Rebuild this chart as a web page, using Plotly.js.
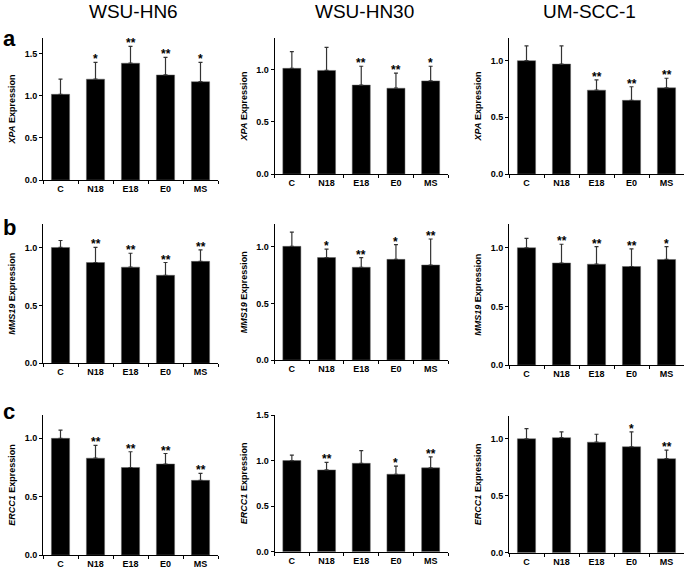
<!DOCTYPE html>
<html>
<head>
<meta charset="utf-8">
<script src="https://cdn.plot.ly/plotly-3.0.1.min.js"></script>
<style>html,body{margin:0;padding:0;background:#fff;}#chart{width:685px;height:572px;}</style>
</head>
<body>
<div id="chart"></div>
<script>
// ---- data ----
var categories = ["C", "N18", "E18", "E0", "MS"];
var cellLines = ["WSU-HN6", "WSU-HN30", "UM-SCC-1"];
var genes = ["XPA", "MMS19", "ERCC1"];
var panelLetters = ["a", "b", "c"];

var xpa_hn6 = [1.02, 1.20, 1.39, 1.25, 1.17];
var xpa_hn6_err = [0.18, 0.20, 0.20, 0.21, 0.23];
var xpa_hn6_sig = ["", "*", "**", "**", "*"];

var xpa_hn30 = [1.01, 0.99, 0.85, 0.82, 0.89];
var xpa_hn30_err = [0.16, 0.22, 0.18, 0.145, 0.14];
var xpa_hn30_sig = ["", "", "**", "**", "*"];

var xpa_scc1 = [1.00, 0.97, 0.74, 0.65, 0.76];
var xpa_scc1_err = [0.13, 0.16, 0.09, 0.12, 0.085];
var xpa_scc1_sig = ["", "", "**", "**", "**"];

var mms19_hn6 = [1.00, 0.87, 0.83, 0.76, 0.88];
var mms19_hn6_err = [0.06, 0.13, 0.12, 0.11, 0.10];
var mms19_hn6_sig = ["", "**", "**", "**", "**"];

var mms19_hn30 = [1.005, 0.906, 0.82, 0.89, 0.84];
var mms19_hn30_err = [0.125, 0.075, 0.085, 0.13, 0.23];
var mms19_hn30_sig = ["", "*", "**", "*", "**"];

var mms19_scc1 = [1.00, 0.87, 0.86, 0.84, 0.90];
var mms19_scc1_err = [0.08, 0.16, 0.15, 0.15, 0.11];
var mms19_scc1_sig = ["", "**", "**", "**", "*"];

var ercc1_hn6 = [1.00, 0.83, 0.75, 0.78, 0.64];
var ercc1_hn6_err = [0.07, 0.11, 0.135, 0.09, 0.06];
var ercc1_hn6_sig = ["", "**", "**", "**", "**"];

var ercc1_hn30 = [1.00, 0.897, 0.97, 0.85, 0.92];
var ercc1_hn30_err = [0.06, 0.083, 0.14, 0.09, 0.12];
var ercc1_hn30_sig = ["", "**", "", "*", "**"];

var ercc1_scc1 = [1.00, 1.01, 0.97, 0.93, 0.825];
var ercc1_scc1_err = [0.09, 0.05, 0.07, 0.13, 0.075];
var ercc1_scc1_sig = ["", "", "", "*", "**"];

var yMax = [[1.69, 1.30, 1.20], [1.20, 1.20, 1.20], [1.20, 1.50, 1.20]];

var panels = [
  [[xpa_hn6, xpa_hn6_err, xpa_hn6_sig], [xpa_hn30, xpa_hn30_err, xpa_hn30_sig], [xpa_scc1, xpa_scc1_err, xpa_scc1_sig]],
  [[mms19_hn6, mms19_hn6_err, mms19_hn6_sig], [mms19_hn30, mms19_hn30_err, mms19_hn30_sig], [mms19_scc1, mms19_scc1_err, mms19_scc1_sig]],
  [[ercc1_hn6, ercc1_hn6_err, ercc1_hn6_sig], [ercc1_hn30, ercc1_hn30_err, ercc1_hn30_sig], [ercc1_scc1, ercc1_scc1_err, ercc1_scc1_sig]]
];

// ---- layout geometry (pixels) ----
var W = 685, H = 572;
var colX = [[43, 218], [274.5, 448], [509, 684]];
var rowY = [
  [[38, 180], [38, 174], [38, 174]],
  [[224.3, 363.3], [224.3, 360], [224.3, 365]],
  [[415, 555], [415, 551.7], [416, 552.7]]
];
var FONT = '"Liberation Sans", Arial, sans-serif';

var data = [];
var layout = {
  width: W, height: H,
  margin: {l: 0, r: 0, t: 0, b: 0},
  paper_bgcolor: '#fff', plot_bgcolor: '#fff',
  showlegend: false,
  bargap: 0.48,
  annotations: []
};

var idx = 0;
for (var r = 0; r < 3; r++) {
  for (var c = 0; c < 3; c++) {
    idx++;
    var xa = 'x' + (idx === 1 ? '' : idx), ya = 'y' + (idx === 1 ? '' : idx);
    var xk = 'xaxis' + (idx === 1 ? '' : idx), yk = 'yaxis' + (idx === 1 ? '' : idx);
    var p = panels[r][c];
    data.push({
      type: 'bar', x: categories, y: p[0], xaxis: xa, yaxis: ya,
      marker: {color: '#000', line: {color: '#666', width: 0.5}},
      error_y: {type: 'data', array: p[1], arrayminus: p[1].map(function(){return 0;}), symmetric: false,
                color: '#333', thickness: 1.2, width: 2},
      hoverinfo: 'none'
    });
    layout[xk] = {
      domain: [colX[c][0] / W, colX[c][1] / W],
      anchor: ya, type: 'category', range: [-0.5, 4.5],
      showline: true, linecolor: '#000', linewidth: 1,
      ticks: 'outside', tickson: 'boundaries', ticklen: 3, tickcolor: '#000',
      showgrid: false, zeroline: false,
      tickfont: {family: FONT, size: 9, color: '#000', weight: 'bold'}
    };
    layout[yk] = {
      domain: [1 - rowY[r][c][1] / H, 1 - rowY[r][c][0] / H],
      anchor: xa, range: [0, yMax[r][c]],
      showline: true, linecolor: '#000', linewidth: 1,
      ticks: 'outside', ticklen: 3, tickcolor: '#000', dtick: 0.5, tickformat: '.1f',
      showgrid: false, zeroline: false,
      tickfont: {family: FONT, size: 9, color: '#000', weight: 'bold'},
      title: {text: '<i>' + genes[r] + '</i> Expression', standoff: 7,
              font: {family: FONT, size: 9, color: '#000', weight: 'bold'}}
    };
    for (var k = 0; k < categories.length; k++) {
      if (p[2][k]) {
        layout.annotations.push({
          xref: xa, yref: ya, x: categories[k], y: p[0][k] + p[1][k],
          text: p[2][k], showarrow: false, yanchor: 'bottom', yshift: -6,
          font: {family: FONT, size: 12, color: '#000', weight: 'bold'}
        });
      }
    }
  }
}

// column titles
var titleX = [133, 364, 589.5];
for (var c2 = 0; c2 < 3; c2++) {
  layout.annotations.push({
    xref: 'paper', yref: 'paper', x: titleX[c2] / W, y: 1 - 11 / H,
    text: cellLines[c2], showarrow: false, xanchor: 'center', yanchor: 'middle',
    font: {family: FONT, size: 19, color: '#000'}
  });
}
// panel letters
var letterY = [39, 228, 411];
for (var r2 = 0; r2 < 3; r2++) {
  layout.annotations.push({
    xref: 'paper', yref: 'paper', x: 1 / W, y: 1 - letterY[r2] / H,
    text: panelLetters[r2], showarrow: false, xanchor: 'left', yanchor: 'middle',
    font: {family: FONT, size: 22, color: '#000', weight: 'bold'}
  });
}

Plotly.newPlot('chart', data, layout, {staticPlot: true, displayModeBar: false});
</script>
</body>
</html>
